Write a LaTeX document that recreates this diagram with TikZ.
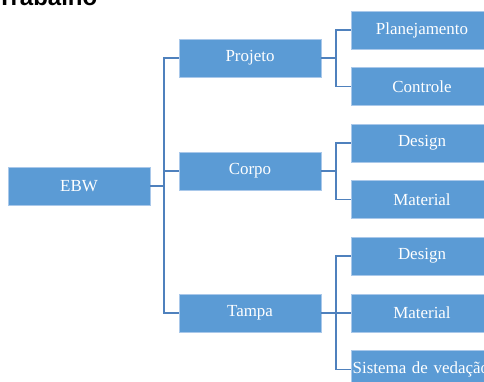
\documentclass[tikz,border=0pt]{standalone}
\usepackage{fontspec}
\setmainfont{Liberation Serif}
\newfontfamily\headfont{Liberation Sans}
\definecolor{boxblue}{HTML}{5B9BD5}
\definecolor{edgeblue}{HTML}{4F81BD}
\definecolor{rimblue}{HTML}{A9C8EA}
\tikzset{wbox/.style={draw=rimblue, fill=boxblue, text=white, minimum width=106.5pt, minimum height=28.5pt, inner sep=0pt, font=\fontsize{12.7}{15}\selectfont}}
\tikzset{link/.style={draw=edgeblue, line width=1.3pt}}

\begin{document}
\begin{tikzpicture}[x=0.75pt,y=-0.75pt]
    \useasboundingbox (0,0) rectangle (484,381);
    \node [anchor=base east, font=\headfont\bfseries\fontsize{18}{20}\selectfont] (title) at (102,6) {Trabalho};
    \node [wbox] (ebw) at (79,186) {EBW};
    \node [wbox] (projeto) at (250,58) {Projeto};
    \node [wbox] (corpo) at (250,171) {Corpo};
    \node [wbox] (tampa) at (250,313) {Tampa};
    \node [wbox] (plan) at (422,30) {Planejamento};
    \node [wbox] (ctrl) at (422,86.5) {Controle};
    \node [wbox] (design1) at (422,143) {Design};
    \node [wbox] (mat1) at (422,199.5) {Material};
    \node [wbox] (design2) at (422,256) {Design};
    \node [wbox] (mat2) at (422,313) {Material};
    \node [wbox, inner xsep=1.25pt, text width=104pt, align=left] (vedacao) at (422,369.5) {Sistema de vedação};
    \draw [link] (ebw.east) -- ++(14,0);
    \draw [link] (projeto.west) -- ++(-15,0) |- (tampa.west);
    \draw [link] (corpo.west) -- ++(-15,0);
    \draw [link] (projeto.east) -- ++(15,0);
    \draw [link] (plan.west) -- ++(-15,0) |- (ctrl.west);
    \draw [link] (corpo.east) -- ++(15,0);
    \draw [link] (design1.west) -- ++(-15,0) |- (mat1.west);
    \draw [link] (tampa.east) -- (mat2.west);
    \draw [link] (design2.west) -- ++(-15,0) |- (vedacao.west);
\end{tikzpicture}
\end{document}
